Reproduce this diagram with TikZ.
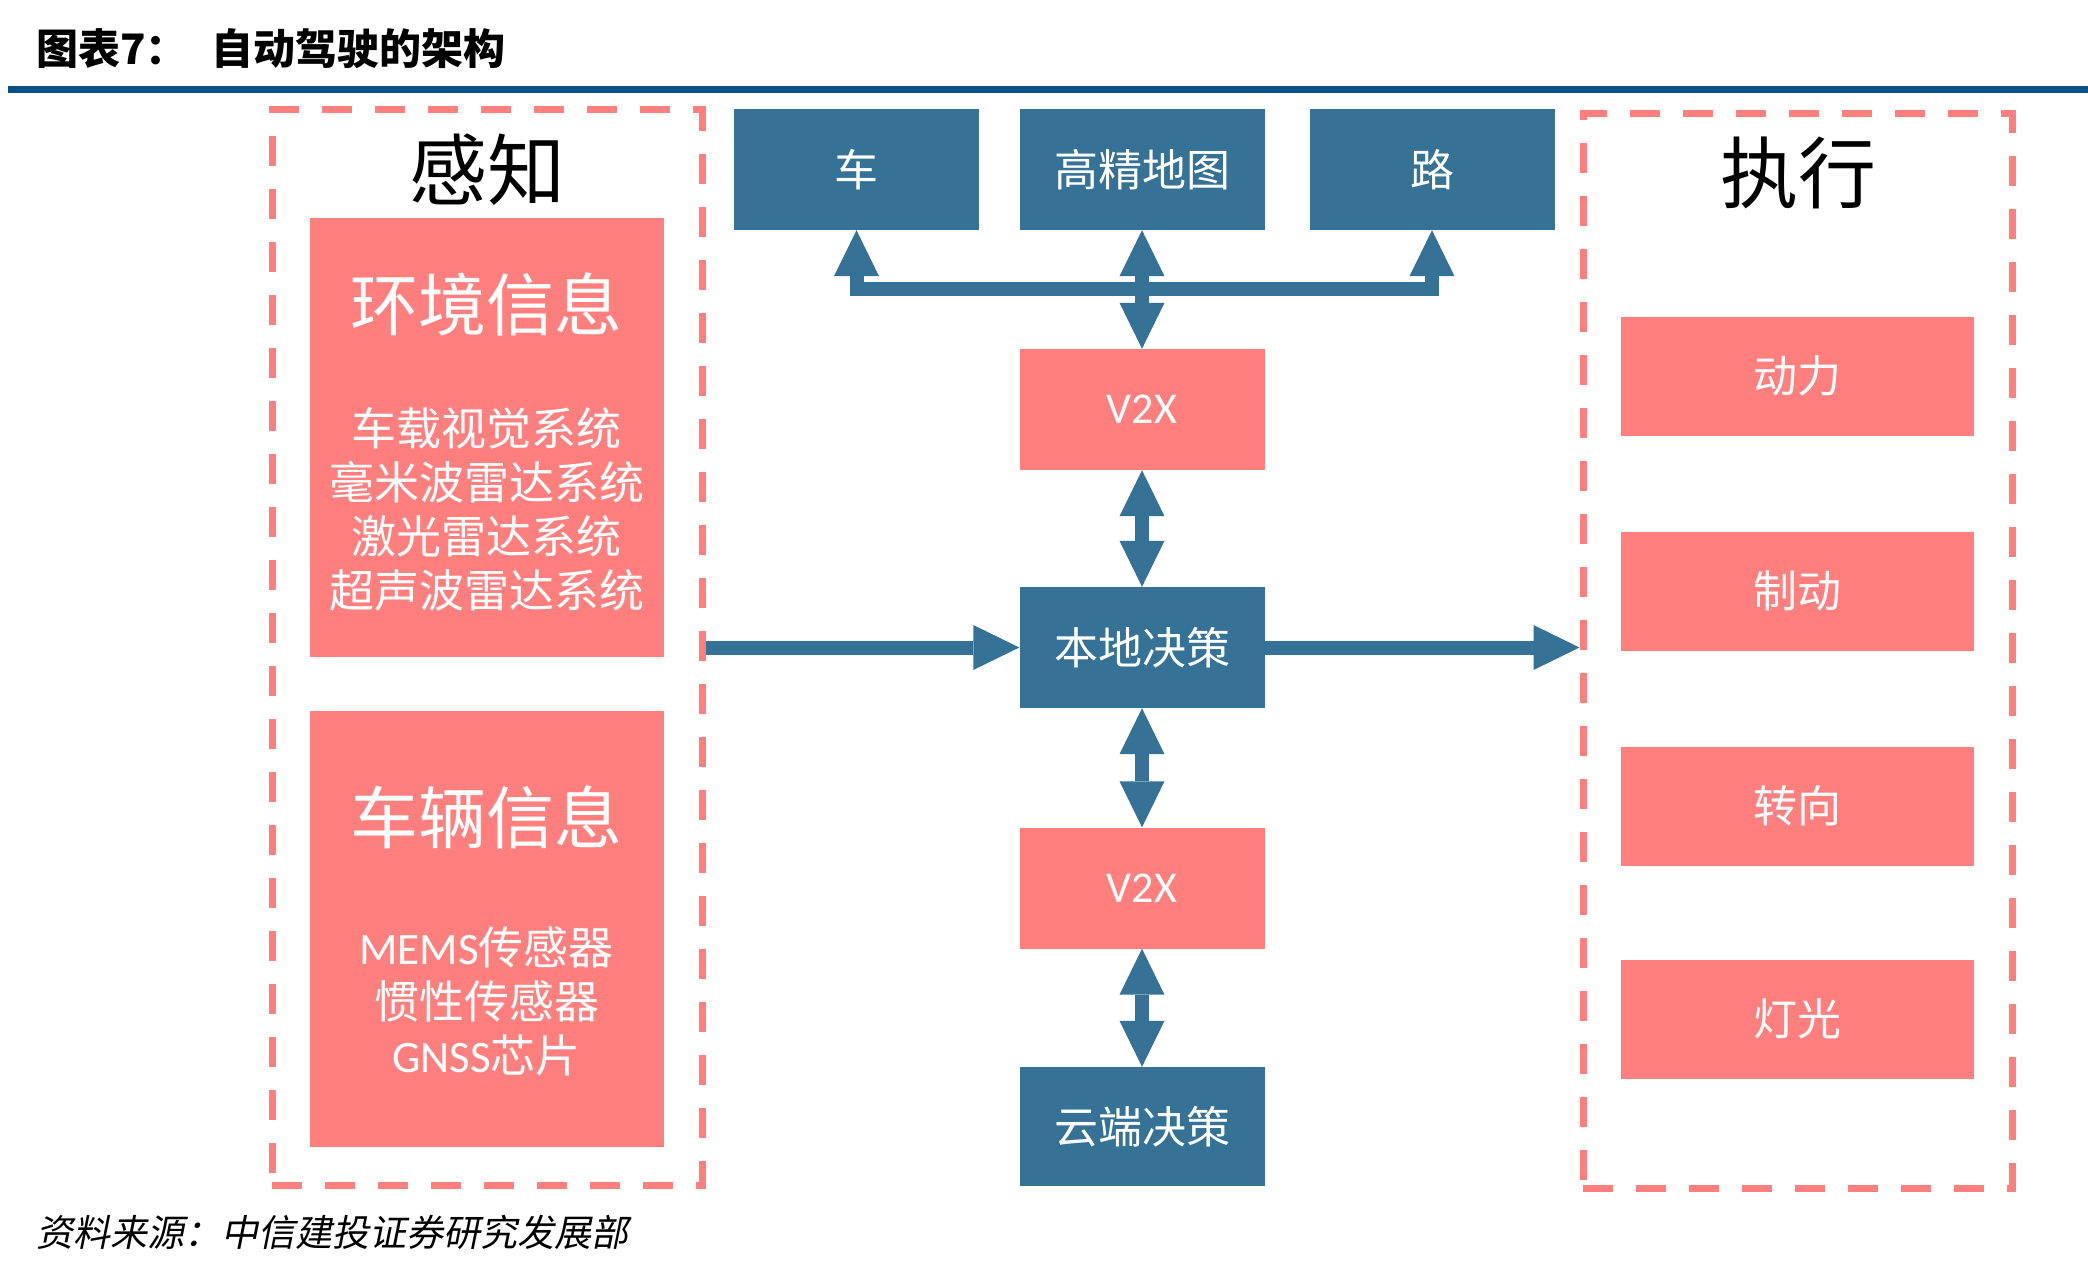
\documentclass[tikz,border=0pt]{standalone}
\usepackage{fontspec}
\setmainfont{Noto Sans CJK SC}
\newfontfamily\lat{Carlito}
\newfontfamily\slantcjk[FakeSlant=0.2]{Noto Sans CJK SC}
\usetikzlibrary{arrows.meta}
\definecolor{blu}{HTML}{357296}
\definecolor{pnk}{HTML}{FF7F7F}
\definecolor{rulec}{HTML}{0B5084}
\newcommand\fsz[2]{\fontsize{#1}{#2}\selectfont}
\tikzset{
  bluebox/.style={fill=blu, minimum width=245pt, minimum height=121pt, inner sep=0pt, text=white, font=\fsz{44}{52}},
  sidebox/.style={fill=pnk, minimum width=353pt, minimum height=119pt, inner sep=0pt, text=white, font=\fsz{44}{52}},
  bigbox/.style={fill=pnk, minimum width=354pt, inner sep=0pt},
  frame/.style={draw=pnk, line width=7pt, dash pattern=on 30pt off 23pt, inner sep=0pt},
  boxtitle/.style={text=white, font=\fsz{68}{80}, inner sep=0pt},
  boxlist/.style={text=white, font=\fsz{45}{54}, align=center, inner sep=0pt},
  grouptitle/.style={font=\fsz{78}{90}, inner sep=0pt},
  tip/.style={Triangle[width=45pt,length=46pt,line width=0pt]},
  bar/.style={draw=blu, line width=14pt},
  dbl/.style={bar, {Triangle[width=45pt,length=46pt,line width=0pt]}-{Triangle[width=45pt,length=46pt,line width=0pt]}},
  sgl/.style={bar, -{Triangle[width=45pt,length=46pt,line width=0pt]}},
}
\begin{document}
\begin{tikzpicture}[x=1pt,y=-1pt]
\useasboundingbox[fill=white] (0,0) rectangle (2088,1276);
% title
\node[anchor=west, font=\bfseries\fsz{42}{50}, inner sep=0pt] (title) at (36,49) {图表7：\hspace{24pt}自动驾驶的架构};
\fill[rulec] (8,86) rectangle (2088,93);
% frames
\node[frame, minimum width=430pt, minimum height=1075pt] (perc) at (487,647.5) {};
\node[frame, minimum width=429pt, minimum height=1074pt] (exec) at (1797.5,651) {};
\node[grouptitle] (perct) at (487,170) {感知};
\node[grouptitle] (exect) at (1798,173) {执行};
% perception boxes
\node[bigbox, minimum height=439pt] (env) at (486.5,437.5) {};
\node[boxtitle] (envt) at (486.5,304) {环境信息};
\node[boxlist] (envl) at (486.5,509.5) {车载视觉系统\\毫米波雷达系统\\激光雷达系统\\超声波雷达系统};
\node[bigbox, minimum height=436pt] (veh) at (486.5,929) {};
\node[boxtitle] (veht) at (486.5,817) {车辆信息};
\node[boxlist] (vehl) at (486.5,1001.5) {{\lat MEMS}传感器\\惯性传感器\\{\lat GNSS}芯片};
% top boxes
\node[bluebox] (car) at (856.5,169.5) {车};
\node[bluebox] (map) at (1142,169.5) {高精地图};
\node[bluebox] (road) at (1432,169.5) {路};
% middle column
\node[bluebox, fill=pnk] (v2xa) at (1142,409.5) {\lat V2X};
\node[bluebox] (local) at (1142,647.5) {本地决策};
\node[bluebox, fill=pnk] (v2xb) at (1142,888) {\lat V2X};
\node[bluebox, minimum height=119pt] (cloud) at (1142,1126.5) {云端决策};
% execution boxes
\node[sidebox] (power) at (1797,376) {动力};
\node[sidebox] (brake) at (1797,591) {制动};
\node[sidebox] (steer) at (1797,806) {转向};
\node[sidebox] (light) at (1797,1019) {灯光};
% connectors
\coordinate (bus) at (1142,289);
\draw[dbl, line join=miter] (car.south) -- (car.south |- bus) -- (road.south |- bus) -- (road.south);
\draw[dbl] (map.south) -- (v2xa.north);
\draw[dbl] (v2xa.south) -- (local.north);
\draw[dbl] (local.south) -- (v2xb.north);
\draw[dbl] (v2xb.south) -- (cloud.north);
\draw[sgl] (perc.east |- local.west) -- (local.west);
\draw[sgl] (local.east) -- (local.east -| exec.west);
% source
\node[anchor=west, font=\slantcjk\fsz{37}{44}, inner sep=0pt] (src) at (36,1232) {资料来源：中信建投证券研究发展部};
\end{tikzpicture}
\end{document}
